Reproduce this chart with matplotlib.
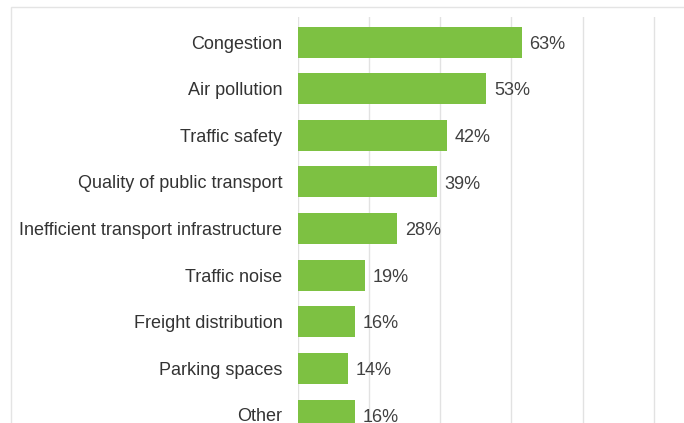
import matplotlib.pyplot as plt
from matplotlib.patches import Rectangle

# ---- Data ----
categories = [
    "Congestion",
    "Air pollution",
    "Traffic safety",
    "Quality of public transport",
    "Inefficient transport infrastructure",
    "Traffic noise",
    "Freight distribution",
    "Parking spaces",
    "Other",
]
shares = [63, 53, 42, 39, 28, 19, 16, 14, 16]
grid_ticks = [0, 20, 40, 60, 80, 100]

plt.rcParams["font.family"] = ["Liberation Sans", "DejaVu Sans"]

fig = plt.figure(figsize=(6.84, 4.23), dpi=100)

# light outer frame of the original chart box
frame = Rectangle((10.5 / 684, -0.1), 1.2, 1 - 7 / 423 + 0.1,
                  transform=fig.transFigure, fill=False,
                  edgecolor="#e4e4e4", linewidth=1.0)
fig.patches.append(frame)

ax = fig.add_axes([297.7 / 684, 0, 1 - 297.7 / 684, 1 - 17 / 423])

ypos = list(range(len(categories)))
ax.barh(ypos, shares, height=0.665, color="#7dc142", zorder=3)

# value labels just right of each bar
for y, v in zip(ypos, shares):
    ax.annotate(f"{v}%", xy=(v, y), xytext=(5.5, -1.5),
                textcoords="offset points", va="center", ha="left",
                fontsize=13, color="#404040")

ax.set_yticks(ypos)
ax.set_yticklabels(categories, fontsize=13, color="#333333")
ax.tick_params(axis="y", length=0, pad=11)
ax.set_xticks(grid_ticks)
ax.tick_params(axis="x", length=0, labelbottom=False)
ax.set_xlim(0, (684 - 297.7) / 3.56)
ax.set_ylim(8 + 8 / 46.6, -0.54)

ax.grid(axis="x", color="#e2e2e2", linewidth=1.0, zorder=0)
ax.grid(axis="y", visible=False)
for s in ax.spines.values():
    s.set_visible(False)

fig.savefig("out.png", dpi=100)
